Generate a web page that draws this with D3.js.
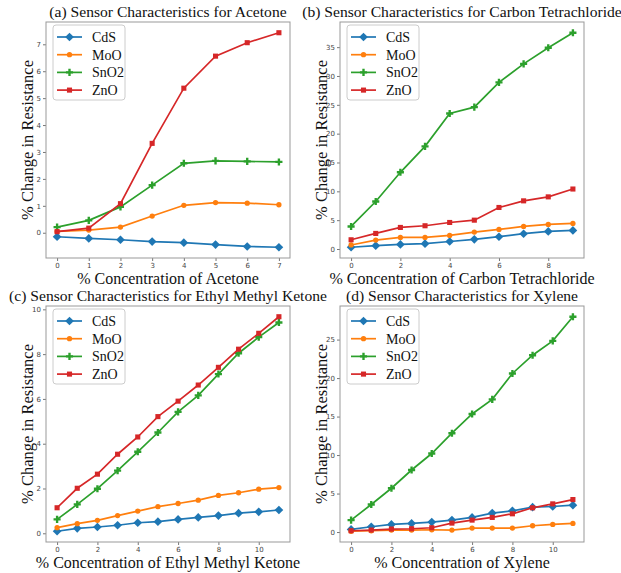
<!DOCTYPE html>
<html>
<head>
<meta charset="utf-8">
<script src="https://cdn.jsdelivr.net/npm/d3@7"></script>
<style>
  body { margin: 0; background: #fff; }
</style>
</head>
<body>
<svg id="fig" width="621" height="573"></svg>
<script>
// series names and colours (matplotlib tab10)
const sensors = ["CdS", "MoO", "SnO2", "ZnO"];
const colors = ["#1f77b4", "#ff7f0e", "#2ca02c", "#d62728"];

// (a) Acetone
const acetoneX = [0, 1, 2, 3, 4, 5, 6, 7];
const acetoneCdS = [-0.15, -0.21, -0.26, -0.33, -0.37, -0.44, -0.51, -0.54];
const acetoneMoO = [0.05, 0.10, 0.21, 0.62, 1.02, 1.12, 1.10, 1.04];
const acetoneSnO2 = [0.21, 0.46, 0.96, 1.77, 2.58, 2.67, 2.65, 2.63];
const acetoneZnO = [0.04, 0.17, 1.08, 3.32, 5.37, 6.56, 7.06, 7.43];
const acetoneXTicks = [0, 1, 2, 3, 4, 5, 6, 7];
const acetoneYTicks = [0, 1, 2, 3, 4, 5, 6, 7];

// (b) Carbon Tetrachloride
const carbonX = [0, 1, 2, 3, 4, 5, 6, 7, 8, 9];
const carbonCdS = [0.3, 0.58, 0.8, 0.92, 1.3, 1.67, 2.13, 2.65, 3.05, 3.22];
const carbonMoO = [0.7, 1.55, 2.0, 2.0, 2.36, 2.94, 3.4, 3.91, 4.26, 4.43];
const carbonSnO2 = [3.91, 8.23, 13.3, 17.8, 23.5, 24.6, 28.9, 32.1, 34.9, 37.5];
const carbonZnO = [1.6, 2.7, 3.74, 4.03, 4.6, 5.0, 7.2, 8.35, 9.04, 10.4];
const carbonXTicks = [0, 2, 4, 6, 8];
const carbonYTicks = [0, 5, 10, 15, 20, 25, 30, 35];

// (c) Ethyl Methyl Ketone
const ketoneX = [0, 1, 2, 3, 4, 5, 6, 7, 8, 9, 10, 11];
const ketoneCdS = [0.09, 0.22, 0.28, 0.36, 0.47, 0.52, 0.62, 0.71, 0.79, 0.9, 0.96, 1.04];
const ketoneMoO = [0.25, 0.43, 0.58, 0.79, 0.99, 1.19, 1.33, 1.48, 1.69, 1.81, 1.97, 2.04];
const ketoneSnO2 = [0.62, 1.29, 1.99, 2.8, 3.64, 4.5, 5.42, 6.16, 7.11, 8.04, 8.76, 9.41];
const ketoneZnO = [1.14, 2.01, 2.64, 3.53, 4.3, 5.21, 5.9, 6.62, 7.41, 8.22, 8.93, 9.67];
const ketoneXTicks = [0, 2, 4, 6, 8, 10];
const ketoneYTicks = [0, 2, 4, 6, 8, 10];

// (d) Xylene
const xyleneX = [0, 1, 2, 3, 4, 5, 6, 7, 8, 9, 10, 11];
const xyleneCdS = [0.34, 0.69, 0.99, 1.12, 1.29, 1.55, 1.9, 2.46, 2.76, 3.23, 3.32, 3.49];
const xyleneMoO = [0.1, 0.17, 0.26, 0.26, 0.3, 0.26, 0.52, 0.52, 0.52, 0.82, 0.99, 1.12];
const xyleneSnO2 = [1.55, 3.58, 5.69, 8.06, 10.2, 12.84, 15.34, 17.24, 20.6, 22.97, 24.83, 27.97];
const xyleneZnO = [0.17, 0.26, 0.39, 0.43, 0.56, 1.16, 1.55, 1.9, 2.37, 3.15, 3.66, 4.22];
const xyleneXTicks = [0, 2, 4, 6, 8, 10];
const xyleneYTicks = [0, 5, 10, 15, 20, 25];

const panels = [
  { left: 46, top: 22, title: "(a) Sensor Characteristics for Acetone", xlabel: "% Concentration of Acetone",
    x: acetoneX, series: [acetoneCdS, acetoneMoO, acetoneSnO2, acetoneZnO], xt: acetoneXTicks, yt: acetoneYTicks },
  { left: 340, top: 22, title: "(b) Sensor Characteristics for Carbon Tetrachloride", xlabel: "% Concentration of Carbon Tetrachloride",
    x: carbonX, series: [carbonCdS, carbonMoO, carbonSnO2, carbonZnO], xt: carbonXTicks, yt: carbonYTicks },
  { left: 46, top: 306, title: "(c) Sensor Characteristics for Ethyl Methyl Ketone", xlabel: "% Concentration of Ethyl Methyl Ketone",
    x: ketoneX, series: [ketoneCdS, ketoneMoO, ketoneSnO2, ketoneZnO], xt: ketoneXTicks, yt: ketoneYTicks },
  { left: 340, top: 306, title: "(d) Sensor Characteristics for Xylene", xlabel: "% Concentration of Xylene",
    x: xyleneX, series: [xyleneCdS, xyleneMoO, xyleneSnO2, xyleneZnO], xt: xyleneXTicks, yt: xyleneYTicks }
];

const W = 244, H = 236;
const SERIF = "Liberation Serif, DejaVu Serif, serif";
const svg = d3.select("#fig");

// marker per sensor
const markers = [
  d3.symbol().type(d3.symbolDiamond2).size(48),
  d3.symbol().type(d3.symbolCircle).size(22),
  d3.symbol().type(d3.symbolCross).size(28),
  d3.symbol().type(d3.symbolSquare).size(26)
];

function pad(ext) {
  const m = (ext[1] - ext[0]) * 0.05;
  return [ext[0] - m, ext[1] + m];
}

panels.forEach(p => {
  const g = svg.append("g").attr("transform", "translate(" + p.left + "," + p.top + ")");

  const x = d3.scaleLinear().domain(pad(d3.extent(p.x))).range([0, W]);
  const y = d3.scaleLinear().domain(pad(d3.extent(p.series.flat()))).range([H, 0]);

  const xa = g.append("g")
    .attr("transform", "translate(0," + H + ")")
    .call(d3.axisBottom(x).tickValues(p.xt).tickSize(3).tickPadding(2).tickFormat(d3.format("d")));
  const ya = g.append("g")
    .call(d3.axisLeft(y).tickValues(p.yt).tickSize(3).tickPadding(2).tickFormat(d3.format("d")));
  [xa, ya].forEach(a => {
    a.select(".domain").remove();
    a.selectAll(".tick line").attr("stroke", "#777");
    a.selectAll(".tick text").attr("fill", "#444")
      .attr("font-family", "DejaVu Sans, sans-serif").attr("font-size", 7);
  });

  const line = d3.line()
    .x((d, i) => x(p.x[i]))
    .y(d => y(d));

  p.series.forEach((s, k) => {
    g.append("path")
      .datum(s)
      .attr("fill", "none")
      .attr("stroke", colors[k])
      .attr("stroke-width", 1.7)
      .attr("d", line);

    g.selectAll(".m" + k)
      .data(s)
      .enter().append("path")
      .attr("class", "m" + k)
      .attr("transform", (d, i) => "translate(" + x(p.x[i]) + "," + y(d) + ")")
      .attr("d", markers[k])
      .attr("fill", colors[k]);
  });

  // frame
  g.append("rect")
    .attr("width", W).attr("height", H)
    .attr("fill", "none").attr("stroke", "#999").attr("stroke-width", 1);

  // legend
  const lg = g.append("g").attr("transform", "translate(7,3)");
  lg.append("rect")
    .attr("width", 72).attr("height", 75).attr("rx", 3)
    .attr("fill", "#fff").attr("fill-opacity", 0.8)
    .attr("stroke", "#ccc");
  sensors.forEach((name, k) => {
    const ry = 12 + k * 17.7;
    lg.append("line")
      .attr("x1", 4).attr("x2", 29).attr("y1", ry).attr("y2", ry)
      .attr("stroke", colors[k]).attr("stroke-width", 1.7);
    lg.append("path")
      .attr("transform", "translate(16.5," + ry + ")")
      .attr("d", markers[k])
      .attr("fill", colors[k]);
    lg.append("text")
      .attr("x", 39).attr("y", ry + 5)
      .attr("font-family", SERIF).attr("font-size", 14).attr("fill", "#111")
      .text(name);
  });

  // title and labels
  g.append("text")
    .attr("x", W / 2).attr("y", -5)
    .attr("text-anchor", "middle")
    .attr("font-family", SERIF).attr("font-size", 15.6).attr("fill", "#111")
    .text(p.title);

  g.append("text")
    .attr("x", W / 2).attr("y", H + 26)
    .attr("text-anchor", "middle")
    .attr("font-family", SERIF).attr("font-size", 16).attr("fill", "#111")
    .text(p.xlabel);

  g.append("text")
    .attr("transform", "translate(-13," + (H / 2) + ") rotate(-90)")
    .attr("text-anchor", "middle")
    .attr("font-family", SERIF).attr("font-size", 16.5).attr("fill", "#111")
    .text("% Change in Resistance");
});
</script>
</body>
</html>
